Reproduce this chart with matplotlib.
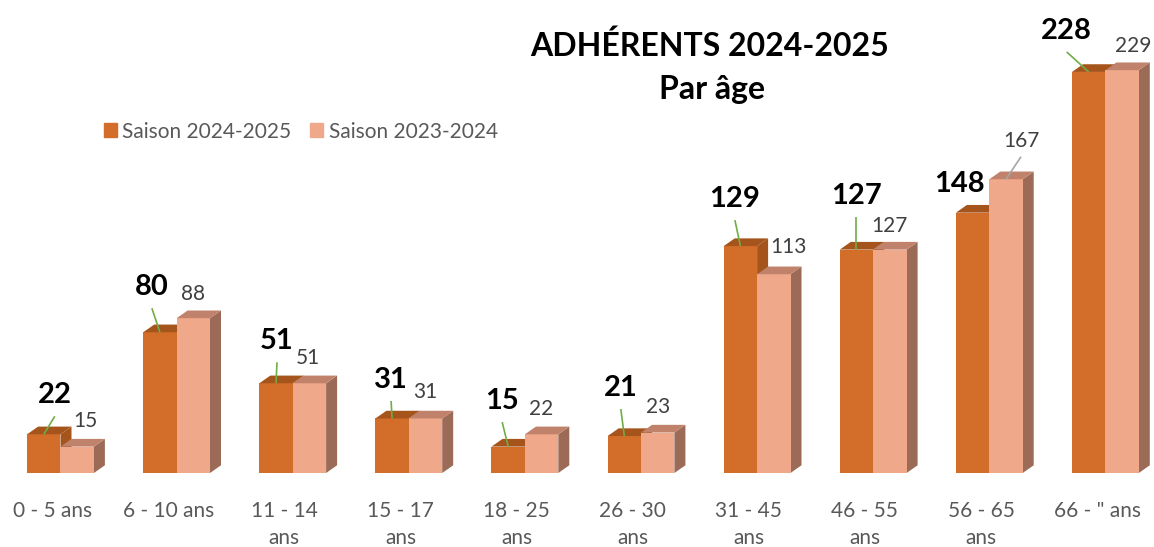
"""
Adherents 2024-2025 par age: faux-3D grouped bar chart, two seasons.
"""

import matplotlib
matplotlib.use("Agg")
import matplotlib.pyplot as plt
import matplotlib.patches as mpatches
from matplotlib.patches import Polygon

# ---------------------------------------------------------------------------
# Data
# ---------------------------------------------------------------------------

categories = ["0 - 5 ans", "6 - 10 ans", "11 - 14\nans", "15 - 17\nans",
              "18 - 25\nans", "26 - 30\nans", "31 - 45\nans", "46 - 55\nans",
              "56 - 65\nans", "66 - \" ans"]
season_2425 = [22, 80, 51, 31, 15, 21, 129, 127, 148, 228]
season_2324 = [15, 88, 51, 31, 22, 23, 113, 127, 167, 229]
series_names = ["Saison 2024-2025", "Saison 2023-2024"]

# ---------------------------------------------------------------------------
# Styling / layout
# ---------------------------------------------------------------------------

FONT = "Lato"
ORANGE = "#D26E2A"
ORANGE_TOP = "#A5541C"
PINK = "#F0A88A"
PINK_TOP = "#C0826B"
PINK_SIDE = "#9C6B58"

BAR_W = 0.2877      # width of one bar, category units
DEPTH_X = 0.0947    # oblique depth offset, category units
DEPTH_Y = 4.38      # oblique depth offset, value units

# hand-placed data label offsets (pixels, to text centre) from the bar top
LABEL_OFF_1 = [(11, 42), (-8, 48), (1, 45), (-1, 41.5), (-6, 48.5),
               (-3.5, 51), (-5.5, 50), (0, 57), (-13, 31.5), (-22, 44)]
LABEL_OFF_2 = [(8, 27), (0, 26), (-1, 27), (0, 28), (0, 27),
               (0, 27), (15, 28.5), (0, 25), (15, 39.5), (11, 26)]
LEADER_1 = [True] * 8 + [False, True]
LEADER_2 = [False] * 8 + [True, False]


def box3d(ax, x0, h, front, top, side, z):
    """Front face via ax.bar, top and side faces as oblique polygons."""
    ax.bar(x0, h, width=BAR_W, align="edge", color=front, zorder=z,
           linewidth=0)
    ax.add_patch(Polygon([(x0, h), (x0 + BAR_W, h),
                          (x0 + BAR_W + DEPTH_X, h + DEPTH_Y),
                          (x0 + DEPTH_X, h + DEPTH_Y)],
                         closed=True, color=top, lw=0, zorder=z))
    ax.add_patch(Polygon([(x0 + BAR_W, 0), (x0 + BAR_W, h),
                          (x0 + BAR_W + DEPTH_X, h + DEPTH_Y),
                          (x0 + BAR_W + DEPTH_X, DEPTH_Y)],
                         closed=True, color=side, lw=0, zorder=z - 0.5))


def pix_to_data(ax, x, y, dx, dy):
    disp = ax.transData.transform((x, y))
    return ax.transData.inverted().transform((disp[0] + dx, disp[1] + dy))


fig = plt.figure(figsize=(11.54, 5.47), dpi=100)
ax = fig.add_axes([0, 0, 1, 1])
ax.set_xlim(-0.5211, 9.4186)
ax.set_ylim(-42.07, 268.9)
ax.axis("off")

for i, (v1, v2) in enumerate(zip(season_2425, season_2324)):
    box3d(ax, i - BAR_W, v1, ORANGE, ORANGE_TOP, ORANGE_TOP, 3)
    box3d(ax, i, v2, PINK, PINK_TOP, PINK_SIDE, 6)

    # --- Data labels with leader lines ---
    for v, xc, (dx, dy), lead, kw, half, gap, lcol in [
        (v1, i - BAR_W / 2, LABEL_OFF_1[i], LEADER_1[i],
         dict(fontsize=21, fontweight="bold", color="black"), 11, 24, "#70AD47"),
        (v2, i + BAR_W / 2, LABEL_OFF_2[i], LEADER_2[i],
         dict(fontsize=15, color="#404040"), 7.5, 17, "#A6A6A6"),
    ]:
        ax.annotate(str(v), xy=(xc, v), xytext=(dx, dy - half),
                    textcoords="offset pixels", ha="center", va="baseline",
                    family=FONT, zorder=10, **kw)
        if lead:
            lx, ly = pix_to_data(ax, xc, v, dx, dy - gap)
            ax.plot([xc, lx], [v, ly], color=lcol, lw=1.2, zorder=9,
                    solid_capstyle="butt")

    # --- Category labels (one text per line, baseline aligned) ---
    for k, line in enumerate(categories[i].split("\n")):
        ax.annotate(line, xy=(i - 0.072, 0), xytext=(0, -44 - 27 * k),
                    textcoords="offset pixels", ha="center", va="baseline",
                    fontsize=15, color="#595959", family=FONT)

# --- Title ---
fig.text(710 / 1154, 1 - 56 / 547, "ADHÉRENTS 2024-2025", ha="center",
         va="baseline", fontsize=23, fontweight="bold", family=FONT)
fig.text(712 / 1154, 1 - 99 / 547, "Par âge", ha="center",
         va="baseline", fontsize=23, fontweight="bold", family=FONT)

# --- Legend ---
handles = [mpatches.Patch(color=ORANGE, label=series_names[0]),
           mpatches.Patch(color=PINK, label=series_names[1])]
ax.legend(handles=handles, loc="center left",
          bbox_to_anchor=(104 / 1154, 1 - 131.5 / 547), ncol=2,
          frameon=False, handlelength=0.63, handleheight=0.63,
          handletextpad=0.25, columnspacing=0.9, borderpad=0,
          borderaxespad=0,
          prop={"family": FONT, "size": 15}, labelcolor="#595959")

fig.savefig("out.png", dpi=100)
